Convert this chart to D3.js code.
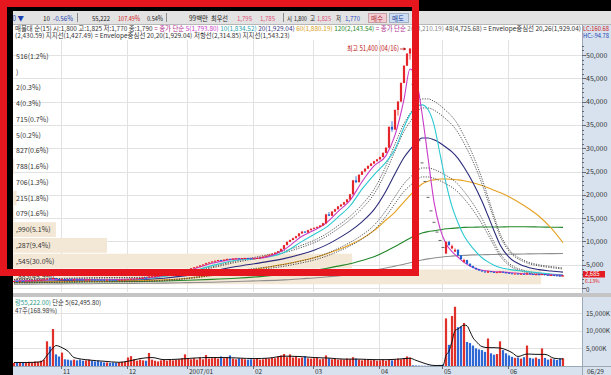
<!DOCTYPE html>
<html><head><meta charset="utf-8">
<script src="https://cdn.jsdelivr.net/npm/d3@7"></script>
<style>
html,body{margin:0;padding:0;background:#fff;}
svg{display:block;}
text{font-family:"Noto Sans CJK KR","Noto Sans",sans-serif;}
</style></head><body>
<svg id="c" width="611" height="375"></svg>
<script>
// ---------------- DATA ----------------
const days = d3.range(184); // trading-day index, 2006-10 .. 2007-06-29
const tickDays = [16, 38, 58, 80, 100, 122, 143, 165];
const tickLabels = ["11", "12", "2007/01", "02", "03", "04", "05", "06"];
const lastDateLabel = "06/29";

const opens = [1490,1500,1480,1510,1490,1520,1560,1600,1650,1720,
1780,1850,2050,1950,2150,1950,1850,1900,1870,1850,
1830,1850,1840,1820,1800,1810,1830,1820,1800,1790,
1770,1760,1770,1760,1750,1740,1760,1780,1800,1880,
1980,2000,2050,2150,2250,2200,2450,2500,2600,2650,
2750,2850,2950,3050,3200,3350,3500,3700,3900,4050,
4250,4450,4600,4850,5050,5350,5500,5700,5850,6000,
5950,6100,6250,6200,6300,6350,6250,6400,6450,6350,
6300,6350,6450,6550,6750,6950,7150,7350,7600,7900,
8400,9200,9900,10300,10700,11100,11700,12100,11900,12400,
12700,12900,13100,13400,13900,15800,15500,16400,16900,17500,
17900,18400,19000,20100,23100,22700,24300,25000,25600,26200,
26700,27200,27600,28100,29000,30100,34600,34000,38200,40000,
44000,47700,50300,43700,37150,31600,26850,22850,19450,16550,
14100,12000,10200,8700,7400,9900,8500,7800,8200,7000,
5600,6000,5200,4700,4300,4000,3750,3550,3300,3600,
3450,3300,3300,3500,3350,3250,3150,3050,3100,2980,
3050,2900,3150,3000,2880,2950,2800,3000,2850,2780,
2820,2750,2680,2530];
const highs = [1520,1510,1520,1520,1530,1570,1610,1660,1730,1790,
1870,2100,2080,2200,2160,1960,1950,1910,1880,1860,
1860,1860,1850,1830,1820,1840,1840,1830,1810,1800,
1780,1780,1780,1770,1760,1770,1790,1810,1900,2000,
2030,2070,2170,2270,2260,2480,2530,2620,2680,2770,
2870,2970,3080,3220,3380,3530,3730,3930,4080,4280,
4480,4630,4880,5080,5400,5530,5730,5880,6030,6050,
6130,6280,6270,6330,6380,6360,6430,6480,6460,6360,
6380,6480,6580,6780,6980,7180,7380,7630,7940,8450,
9250,9950,10400,10800,11200,11800,12200,12200,12500,12800,
13000,13200,13500,14000,15900,16300,16500,17000,17600,18000,
18500,19100,20200,23200,24000,24400,25100,25700,26300,26800,
27300,27700,28200,29100,30200,34600,35800,38300,40100,44100,
47800,50400,51400,43700,37150,31600,26850,22850,19450,16550,
14100,12000,10200,8700,10000,10100,9300,8500,8300,7100,
6300,6050,5300,4800,4400,4100,3800,3600,3700,3650,
3500,3450,3600,3550,3400,3300,3200,3150,3150,3100,
3080,3200,3180,3020,2980,2970,3050,3010,2880,2850,
2840,2760,2690,2720];
const lows = [1470,1470,1470,1480,1480,1510,1550,1590,1640,1700,
1760,1840,1930,1940,1920,1830,1840,1860,1840,1820,
1820,1830,1810,1790,1790,1800,1810,1790,1780,1760,
1750,1750,1750,1740,1730,1730,1750,1770,1790,1870,
1960,1990,2040,2140,2180,2190,2430,2490,2590,2640,
2740,2840,2940,3040,3190,3340,3490,3690,3890,4040,
4240,4440,4590,4840,5040,5340,5490,5690,5840,5920,
5940,6090,6180,6190,6290,6230,6240,6390,6330,6280,
6290,6340,6440,6540,6740,6940,7140,7340,7590,7890,
8390,9190,9850,10250,10650,11050,11650,11800,11850,12350,
12650,12850,13050,13350,13850,15400,15450,16350,16850,17450,
17850,18350,18950,20050,22500,22650,24250,24950,25550,26150,
26650,27150,27550,28050,28950,30050,33500,33950,37000,39950,
43950,47650,49000,43700,37150,31600,26850,22850,19450,16550,
14100,12000,10200,8700,7300,9100,8300,7700,6950,6100,
5500,5150,4650,4250,3950,3700,3500,3350,3250,3400,
3300,3250,3250,3300,3200,3100,3050,3000,2950,2950,
2900,2880,2980,2880,2850,2830,2780,2830,2780,2760,
2730,2660,2500,2510];
const closes = [1500,1480,1510,1490,1520,1560,1600,1650,1720,1780,
1850,2050,1950,2150,1950,1850,1900,1870,1850,1830,
1850,1840,1820,1800,1810,1830,1820,1800,1790,1770,
1760,1770,1760,1750,1740,1760,1780,1800,1880,1980,
2000,2050,2150,2250,2200,2450,2500,2600,2650,2750,
2850,2950,3050,3200,3350,3500,3700,3900,4050,4250,
4450,4600,4850,5050,5350,5500,5700,5850,6000,5950,
6100,6250,6200,6300,6350,6250,6400,6450,6350,6300,
6350,6450,6550,6750,6950,7150,7350,7600,7900,8400,
9200,9900,10300,10700,11100,11700,12100,11900,12400,12700,
12900,13100,13400,13900,15800,15500,16400,16900,17500,17900,
18400,19000,20100,23100,22700,24300,25000,25600,26200,26700,
27200,27600,28100,29000,30100,34600,34000,38200,40000,44000,
47700,50300,51400,43700,37150,31600,26850,22850,19450,16550,
14100,12000,10200,8700,9900,9200,9000,8200,7000,6200,
6000,5200,4700,4300,4000,3750,3550,3400,3600,3450,
3350,3400,3500,3350,3250,3150,3100,3100,3000,3050,
2950,3150,3000,2900,2950,2850,3000,2850,2800,2820,
2750,2680,2530,2685];
const volumes = [900,1000,950,1000,900,1200,1000,1300,1200,1500,
1800,7000,5500,10500,3300,2700,3800,1900,1800,1600,
1800,1600,1800,1500,1600,1800,1500,1300,1500,1200,
1000,1000,900,1000,900,1000,1200,1300,2400,2800,
1900,1500,1800,1600,1500,3700,1800,1500,1300,1600,
1800,1500,1900,1600,1800,1900,2200,3300,2100,1900,
2200,1800,2400,1900,3100,2100,2200,2400,2100,2700,
2200,2500,3000,2100,1900,2200,2100,1900,1800,1900,
1900,2100,1800,1900,2200,2100,2400,2200,2700,3000,
3400,2500,3300,2400,2700,2200,2400,2800,2200,2100,
2200,2400,1900,2100,3000,2200,1900,2100,1800,1900,
1800,2100,1900,2500,2100,1800,1600,1900,1800,1600,
1800,1500,1600,1800,1500,1900,1600,1800,2100,1900,
2200,2700,2400,200,150,120,90,90,80,90,
120,150,300,450,13500,6000,14200,16800,11000,11200,
12200,6800,6500,5800,5000,4700,4500,4000,7800,3600,
3200,3400,7000,4500,3600,3000,2600,2300,2400,2100,
2500,5800,2300,2100,2400,2000,5000,2300,1800,2100,
1900,1700,2100,2200];

// moving averages at these day indices
const maDays = [0,10,20,30,40,50,58,66,74,82,90,96,100,104,108,112,116,120,124,127,130,132,134,136,138,140,142,144,146,148,150,153,156,158,160,162,165,170,175,179,183];
const ma5 = [1490,1700,1850,1780,1930,2700,3700,5300,6250,6420,8200,11100,12400,13900,16400,18800,22800,26200,28400,32800,40500,47000,45000,37500,28000,18500,12800,9500,7800,6600,5500,4400,3800,3650,3500,3450,3320,3060,2920,2830,2700];
const ma10 = [1480,1620,1880,1800,1830,2500,3350,4800,5950,6400,7600,10000,11500,13000,15200,17600,21200,24300,27000,29800,34500,37200,38800,39300,38300,35000,28800,22500,17500,14000,11200,8500,6500,5600,4900,4400,4000,3600,3250,3000,2850];
const ma20 = [1450,1550,1700,1780,1800,2100,2700,3600,4600,5400,6300,7300,8100,9200,10600,12200,14200,16800,20800,24500,28000,29700,31100,32200,32200,31800,31100,30200,29200,27800,25900,22600,18600,15500,12300,9300,6600,4700,3950,3650,3400];
const ma60 = [1300,1350,1400,1480,1580,1750,2100,2700,3400,4200,5100,5900,6500,7300,8200,9300,10600,12300,14600,16300,18500,19900,21200,22300,22900,23200,23400,23400,23300,23200,23000,22600,22000,21500,21000,20500,19600,17700,15400,12900,9700];
const ma120 = [1200,1250,1300,1350,1400,1500,1650,1850,2100,2450,2900,3400,3800,4200,4700,5200,5900,6700,7900,8900,10000,10700,11300,11800,12100,12300,12500,12700,12800,12900,13000,13050,13100,13100,13100,13100,13150,13150,13100,13050,13000];
const ma240 = [800,850,900,950,1000,1050,1150,1250,1400,1550,1750,2000,2150,2350,2600,2900,3300,3800,4300,4700,5100,5400,5700,6000,6250,6450,6600,6750,6850,6950,7000,7100,7150,7170,7200,7220,7250,7300,7350,7380,7400];
const envelopePcts = [26, 20, -20, -26]; // envelope of MA20 (legend)

const volMaDays = [0,5,9,11,13,14,16,18,20,25,30,35,38,42,46,50,55,60,65,70,75,80,85,90,95,100,105,110,115,120,125,130,132,134,136,138,140,143,144,145,146,147,148,150,151,152,153,154,156,158,160,162,164,166,168,171,174,177,180,183];
const volMa = [1000,1000,1200,3000,5100,5800,5200,4200,2400,1700,1350,1050,1350,2100,2400,1800,1950,2250,2400,2400,2250,2100,2250,2800,2700,2400,2250,1950,1950,1800,1800,2100,2200,1600,1000,450,150,150,3000,4200,7000,10000,10500,11600,11400,9800,8000,7000,5500,5200,5200,5100,4600,3800,2700,3400,3300,3300,2200,2000];

// price-volume profile (15 bands, top to bottom)
const profileMin = 700, profileMax = 51400;
const profilePct = [1.2,0.0,0.3,0.3,0.7,0.2,0.6,1.6,1.3,1.8,1.6,5.1,9.4,30.0,45.9];
const profileLabels = ["516(1.2%)",")","2(0.3%)","4(0.3%)","715(0.7%)","5(0.2%)","827(0.6%)","788(1.6%)","706(1.3%)","215(1.8%)","079(1.6%)",",990(5.1%)",",287(9.4%)",",545(30.0%)",",883(45.9%)"];

const priceTicks = [0,5000,10000,15000,20000,25000,30000,35000,40000,45000,50000];
const volTicks = [5000,10000,15000];
const lastPrice = 2685, lastChange = "6.13%";
const peakLabel = "최고 51,400 (04/16)";

// ---------------- DRAW ----------------
const svg = d3.select("#c");
const x = d3.scaleLinear().domain([0, 183]).range([14, 563]);
const y = d3.scaleLinear().domain([0, 50000]).range([288, 55]);
const yv = d3.scaleLinear().domain([0, 19000]).range([366, 299]);
const px = d3.scaleLinear().domain([0, 46]).range([-4.8, 542.3]);
const fmt = d3.format(",");

const UP = "#e4262c", DN = "#2060d0";
const colorOf = i => closes[i] > opens[i] ? UP : (closes[i] === opens[i] && highs[i] === lows[i] ? "#666" : (closes[i] === opens[i] ? UP : DN));

svg.append("rect").attr("width", 611).attr("height", 375).attr("fill", "#fff");
// header row
svg.append("rect").attr("x", 0).attr("y", 11).attr("width", 611).attr("height", 13).attr("fill", "#e3e3e3");
svg.append("line").attr("x1", 0).attr("x2", 611).attr("y1", 24.5).attr("y2", 24.5).attr("stroke", "#b8b8b8");
// right axis panel + x-axis row
svg.append("rect").attr("x", 582).attr("y", 25).attr("width", 29).attr("height", 350).attr("fill", "#d7e2ee");
svg.append("rect").attr("x", 13).attr("y", 366).attr("width", 598).attr("height", 9).attr("fill", "#d7e2ee");
svg.append("line").attr("x1", 582.5).attr("x2", 582.5).attr("y1", 25).attr("y2", 375).attr("stroke", "#9aa8b8");
svg.append("line").attr("x1", 13).attr("x2", 611).attr("y1", 366.5).attr("y2", 366.5).attr("stroke", "#9aa8b8");

const defs = svg.append("defs");
defs.append("clipPath").attr("id", "cm").append("rect").attr("x", 13).attr("y", 40).attr("width", 569).attr("height", 252);
defs.append("clipPath").attr("id", "cv").append("rect").attr("x", 13).attr("y", 299).attr("width", 569).attr("height", 67);

// ---- main panel
const g = svg.append("g").attr("clip-path", "url(#cm)");
priceTicks.forEach(v => g.append("line").attr("x1", 13).attr("x2", 582).attr("y1", Math.round(y(v)) + 0.5).attr("y2", Math.round(y(v)) + 0.5).attr("stroke", "#e2e2e2"));
tickDays.forEach(d => g.append("line").attr("x1", Math.round(x(d) - 1.5) + 0.5).attr("x2", Math.round(x(d) - 1.5) + 0.5).attr("y1", 40).attr("y2", 292).attr("stroke", "#e2e2e2"));

// profile bands
const step = (profileMax - profileMin) / profilePct.length;
profilePct.forEach((p, j) => {
  const hi = profileMax - j * step, lo = hi - step;
  g.append("rect").attr("x", px(0)).attr("y", y(hi) + 0.5).attr("width", Math.max(0, px(p) - px(0)))
    .attr("height", y(lo) - y(hi) - 1).attr("fill", "#f3e7d6");
});
profileLabels.forEach((t, j) => {
  const mid = profileMax - (j + 0.5) * step;
  g.append("text").attr("x", 16).attr("y", y(mid) + 2.5).attr("font-size", 7).attr("fill", "#333").text(t);
});

// MA lines
const lineOf = (daysArr, vals, ys) => d3.line().x((d, i) => x(daysArr[i])).y(d => ys(d)).curve(d3.curveMonotoneX)(vals);
const drawMA = (vals, color, w, dash) => g.append("path").attr("d", lineOf(maDays, vals, y)).attr("fill", "none")
  .attr("stroke", color).attr("stroke-width", w).attr("stroke-dasharray", dash || null);
drawMA(ma240, "#8f8f8f", 1.1);
drawMA(ma120, "#23882a", 1.1);
drawMA(ma60, "#e6a020", 1.1);
envelopePcts.forEach(p => drawMA(ma20.map(v => v * (1 + p / 100)), "#444", 0.9, "1.2,1.3"));
drawMA(ma20, "#2b2b7a", 1.1);
drawMA(ma10, "#2cc8d2", 1.1);
drawMA(ma5, "#c83ac8", 1.1);

// candles
days.forEach(i => {
  const cx = x(i), col = colorOf(i);
  if (highs[i] === lows[i]) {
    g.append("rect").attr("x", cx - 1.5).attr("y", y(closes[i]) - 0.5).attr("width", 3).attr("height", 1).attr("fill", col);
    return;
  }
  g.append("line").attr("x1", cx).attr("x2", cx).attr("y1", y(highs[i])).attr("y2", y(lows[i])).attr("stroke", col).attr("stroke-width", 0.8);
  const top = y(Math.max(opens[i], closes[i])), bot = y(Math.min(opens[i], closes[i]));
  g.append("rect").attr("x", cx - 1.1).attr("y", top).attr("width", 2.2).attr("height", Math.max(1, bot - top)).attr("fill", col);
});

// peak label
svg.append("text").attr("x", 399).attr("y", 51).attr("text-anchor", "end").attr("font-size", 7).attr("fill", "#c01818")
  .attr("textLength", 52).attr("lengthAdjust", "spacingAndGlyphs").text(peakLabel);
svg.append("line").attr("x1", 400).attr("x2", 406).attr("y1", 49).attr("y2", 49).attr("stroke", "#c01818").attr("stroke-width", 0.8);
svg.append("path").attr("d", "M406,49 l-2.5,-1.8 v3.6 z").attr("fill", "#c01818");

// price axis
priceTicks.forEach(v => {
  svg.append("text").attr("x", 586).attr("y", y(v) + (v === 0 ? 3.5 : 2.5)).attr("font-size", v === 0 ? 6.2 : 7).attr("fill", "#333").text(fmt(v));
});
d3.range(0, 52001, 1000).forEach(v => {
  const yy = Math.round(y(v)) + 0.5;
  svg.append("line").attr("x1", 582).attr("x2", v % 5000 === 0 ? 586 : 584).attr("y1", yy).attr("y2", yy).attr("stroke", "#667");
});
svg.append("rect").attr("x", 583).attr("y", y(lastPrice) - 4.5).attr("width", 22).attr("height", 6.5).attr("fill", "#e21c22");
svg.append("text").attr("x", 585).attr("y", y(lastPrice) + 0.8).attr("font-size", 5.8).attr("fill", "#fff").text(fmt(lastPrice));
svg.append("text").attr("x", 585).attr("y", y(lastPrice) + 7.3).attr("font-size", 5.2).attr("fill", "#e21c22").text(lastChange);

// separator between panels
svg.append("rect").attr("x", 13).attr("y", 293).attr("width", 598).attr("height", 4).attr("fill", "#c4c4c4");

// ---- volume panel
const gv = svg.append("g").attr("clip-path", "url(#cv)");
volTicks.forEach(v => gv.append("line").attr("x1", 13).attr("x2", 582).attr("y1", Math.round(yv(v)) + 0.5).attr("y2", Math.round(yv(v)) + 0.5).attr("stroke", "#e2e2e2"));
tickDays.forEach(d => gv.append("line").attr("x1", Math.round(x(d) - 1.5) + 0.5).attr("x2", Math.round(x(d) - 1.5) + 0.5).attr("y1", 299).attr("y2", 366).attr("stroke", "#e2e2e2"));
days.forEach(i => {
  const col = closes[i] > opens[i] || (closes[i] === opens[i] && highs[i] !== lows[i]) ? "#e0302a" : "#2d68d4";
  gv.append("rect").attr("x", x(i) - 1.1).attr("y", yv(volumes[i])).attr("width", 2.2).attr("height", 366 - yv(volumes[i])).attr("fill", col);
});
gv.append("path").attr("d", lineOf(volMaDays, volMa, yv)).attr("fill", "none").attr("stroke", "#111").attr("stroke-width", 1);
volTicks.forEach(v => svg.append("text").attr("x", 586).attr("y", yv(v) + 2.5).attr("font-size", 6.5).attr("fill", "#333").text(fmt(v) + "K"));

// x axis labels
tickDays.forEach((d, k) => {
  svg.append("line").attr("x1", Math.round(x(d) - 1.5) + 0.5).attr("x2", Math.round(x(d) - 1.5) + 0.5).attr("y1", 366).attr("y2", 369).attr("stroke", "#667");
  svg.append("text").attr("x", x(d) + 1).attr("y", 373.5).attr("font-size", 6.5).attr("fill", "#333").text(tickLabels[k]);
});
svg.append("text").attr("x", 587).attr("y", 373.5).attr("font-size", 6.5).attr("fill", "#333").text(lastDateLabel);

// ---- helper: a row of coloured segments; the font is sized so the row fills the given width
function segmentRow(segs, x0, yy, size, width) {
  const probe = segs.map(s => svg.append("text").attr("font-size", size).attr("xml:space", "preserve").text(s[0]));
  const nat = probe.map(p => p.node().getComputedTextLength());
  probe.forEach(p => p.remove());
  const k = width ? width / d3.sum(nat) : 1;
  const fs = size * k;
  let cx = x0;
  segs.forEach((s, i) => {
    const txt = s[0].replace(/\s+$/, "");
    svg.append("text").attr("x", cx).attr("y", yy).attr("font-size", fs).attr("fill", s[1]).text(txt);
    cx += nat[i] * k;
  });
}

segmentRow([["량55,222.00) ", "#2a9a88"], ["단순 5(62,495.80)", "#333"]], 15, 305, 6.3, 0);
svg.append("text").attr("x", 15).attr("y", 313).attr("font-size", 6.3).attr("fill", "#333").text("47주(168.98%)");

// ---- header texts: [text, x, width, colour]
const hdr = [["30 ▼", 9, 15, "#1f3fb0"], ["10", 43, 7, "#222"], ["-0.56%", 53, 20, "#1f3fb0"], ["55,222", 92, 18, "#222"],
  ["107.49%", 118, 22, "#d02020"], ["0.54%", 147, 16, "#222"], ["99백만", 189, 19, "#222"], ["최우선", 211, 17, "#222"],
  ["1,795", 237, 15, "#e0507a"], ["1,785", 260, 15, "#e0507a"], ["시", 287, 5, "#222"], ["1,800", 294, 13, "#222"],
  ["고", 310, 5, "#222"], ["1,825", 317, 14, "#e0507a"], ["저", 336, 5, "#222"], ["1,770", 345, 15, "#3050c0"]];
hdr.forEach(h => svg.append("text").attr("x", h[1]).attr("y", 20.5).attr("font-size", 7).attr("fill", h[3])
  .attr("textLength", h[2]).attr("lengthAdjust", "spacingAndGlyphs").text(h[0]));
[77.5, 166.5, 283.5].forEach(sx => svg.append("line").attr("x1", sx).attr("x2", sx).attr("y1", 13).attr("y2", 22).attr("stroke", "#8a8a8a"));
svg.append("rect").attr("x", 368.5).attr("y", 13.5).attr("width", 18).attr("height", 9).attr("fill", "#f2cdd2").attr("stroke", "#c9a0a6");
svg.append("text").attr("x", 371).attr("y", 20.5).attr("font-size", 6.5).attr("fill", "#b03040").text("매수");
svg.append("rect").attr("x", 389.5).attr("y", 13.5).attr("width", 19).attr("height", 9).attr("fill", "#cddcf2").attr("stroke", "#9fb0c8");
svg.append("text").attr("x", 392).attr("y", 20.5).attr("font-size", 6.5).attr("fill", "#2040a0").text("매도");

const leg1 = [["매물대 순(15) 시:1,800 고:1,825 저:1,770 종:1,790 ", "#333"], ["= 종가 단순 ", "#b03090"], ["5(1,793.80) ", "#c83ac8"],
  ["10(1,834.52) ", "#1fa2a8"], ["20(1,929.04) ", "#3a3a80"], ["60(1,880.19) ", "#d4a020"], ["120(2,143.54) ", "#2a8a2a"],
  ["= 종가 단순 ", "#b03090"], ["20(3,210.19) ", "#888"], ["48(4,725.68) ", "#444"], ["= Envelope중심선 20,26(1,929.04)", "#333"]];
segmentRow(leg1, 15, 30.5, 6.5, 566);
const leg2 = [["(2,430.59) 지지선(1,427.49) ", "#333"], ["= Envelope중심선 20,20(1,929.04) ", "#333"], ["저항선(2,314.85) 지지선(1,543.23)", "#333"]];
segmentRow(leg2, 15, 38, 6.5, 275);
svg.append("text").attr("x", 583).attr("y", 30.5).attr("font-size", 5.8).attr("fill", "#d02020").text("LC:160.68");
svg.append("text").attr("x", 583).attr("y", 38).attr("font-size", 5.8).attr("fill", "#2040b0").text("HC:-94.78");

// ---- black screen edges and red highlight frame
svg.append("rect").attr("x", 0).attr("y", 0).attr("width", 611).attr("height", 11).attr("fill", "#000");
svg.append("rect").attr("x", 0).attr("y", 0).attr("width", 13).attr("height", 375).attr("fill", "#000");
svg.append("rect").attr("x", 3.5).attr("y", 3.5).attr("width", 412).attr("height", 269).attr("fill", "none")
  .attr("stroke", "#e5161d").attr("stroke-width", 7);
</script>
</body></html>
